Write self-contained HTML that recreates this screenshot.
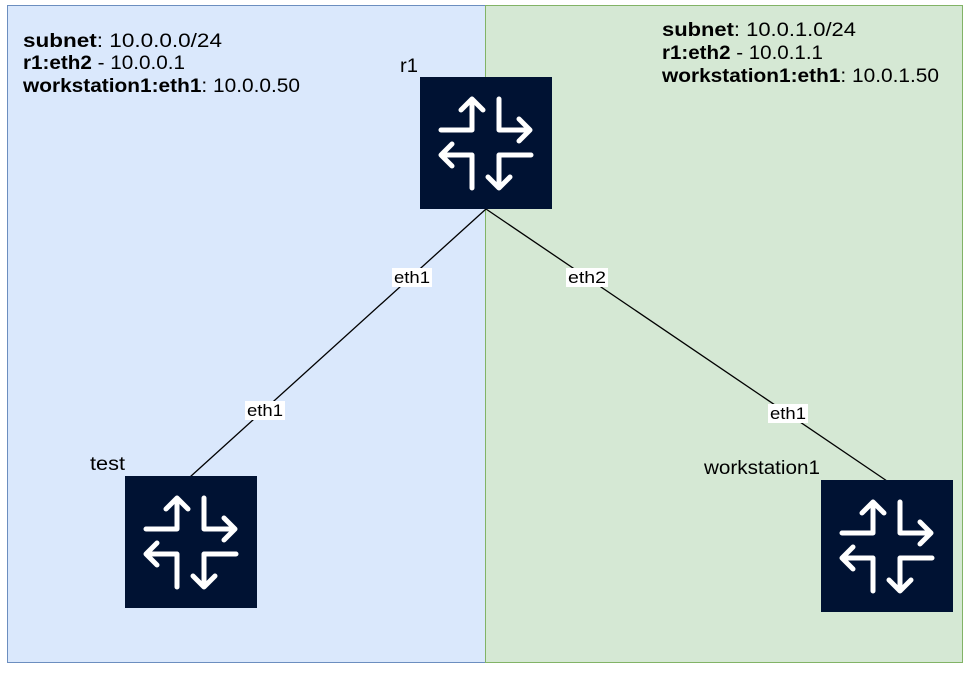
<!DOCTYPE html>
<html><head><style>
body{margin:0;width:974px;height:669px;background:#fff;overflow:hidden;font-family:"Liberation Sans",sans-serif}
</style></head><body>
<svg width="974" height="669" xmlns="http://www.w3.org/2000/svg" font-family="Liberation Sans, sans-serif">
<defs>
<g id="rt">
<rect width="132" height="132" fill="#001233"/>
<g fill="none" stroke="#fff" stroke-width="5" stroke-linecap="round" stroke-linejoin="round">
<path d="M21,53H52V22M41,33L52,22L63,33"/>
<path d="M79,22V53H110M99,42L110,53L99,64"/>
<path d="M21,78H52V111M32,67L21,78L32,89"/>
<path d="M111,78H79V111M68,100L79,111L90,100"/>
</g></g>
</defs>
<rect x="7.5" y="5.5" width="478" height="657" fill="#dae8fc" stroke="#6c8ebf"/>
<rect x="485.5" y="5.5" width="477" height="657" fill="#d5e8d4" stroke="#82b366"/>
<line x1="486" y1="209" x2="190" y2="477" stroke="#000" stroke-width="1.3"/>
<line x1="486" y1="209" x2="887" y2="481" stroke="#000" stroke-width="1.3"/>
<use href="#rt" x="420" y="77"/>
<use href="#rt" x="125" y="476"/>
<use href="#rt" x="821" y="480"/>
<g font-size="17" fill="#000">
<rect x="392" y="268" width="40" height="19" fill="#fff"/><text x="394" y="283" textLength="36" lengthAdjust="spacingAndGlyphs">eth1</text>
<rect x="245" y="401" width="40" height="19" fill="#fff"/><text x="247" y="416" textLength="36" lengthAdjust="spacingAndGlyphs">eth1</text>
<rect x="566" y="268" width="42" height="19" fill="#fff"/><text x="568" y="283" textLength="38" lengthAdjust="spacingAndGlyphs">eth2</text>
<rect x="768" y="404" width="40" height="19" fill="#fff"/><text x="770" y="419" textLength="36" lengthAdjust="spacingAndGlyphs">eth1</text>
</g>
<g font-size="19" fill="#000">
<text x="400" y="72" textLength="18" lengthAdjust="spacingAndGlyphs">r1</text>
<text x="90" y="470" textLength="35" lengthAdjust="spacingAndGlyphs">test</text>
<text x="704" y="474" textLength="116" lengthAdjust="spacingAndGlyphs">workstation1</text>
<text x="23" y="47" textLength="199" lengthAdjust="spacingAndGlyphs"><tspan font-weight="bold">subnet</tspan>: 10.0.0.0/24</text>
<text x="23" y="69" textLength="162" lengthAdjust="spacingAndGlyphs"><tspan font-weight="bold">r1:eth2</tspan> - 10.0.0.1</text>
<text x="23" y="92" textLength="277" lengthAdjust="spacingAndGlyphs"><tspan font-weight="bold">workstation1:eth1</tspan>: 10.0.0.50</text>
<text x="662" y="36" textLength="194" lengthAdjust="spacingAndGlyphs"><tspan font-weight="bold">subnet</tspan>: 10.0.1.0/24</text>
<text x="662" y="59" textLength="161" lengthAdjust="spacingAndGlyphs"><tspan font-weight="bold">r1:eth2</tspan> - 10.0.1.1</text>
<text x="662" y="82" textLength="277" lengthAdjust="spacingAndGlyphs"><tspan font-weight="bold">workstation1:eth1</tspan>: 10.0.1.50</text>
</g>
</svg>
</body></html>
